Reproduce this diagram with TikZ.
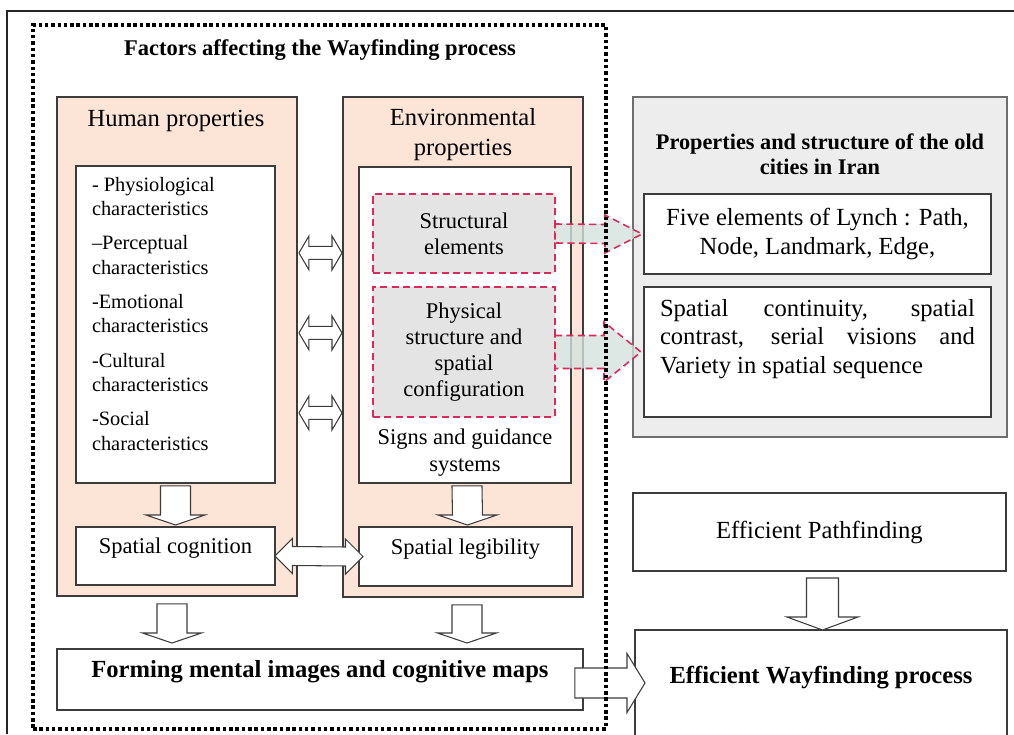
\documentclass[tikz,border=0pt]{standalone}
\usepackage{fontspec}
\setmainfont{Liberation Serif}
\usetikzlibrary{calc, positioning}

\definecolor{peach}{RGB}{252,229,214}
\definecolor{boxline}{RGB}{60,60,60}
\definecolor{propfill}{RGB}{237,237,237}
\definecolor{propline}{RGB}{110,110,110}
\definecolor{redline}{RGB}{222,40,90}
\definecolor{dashfill}{RGB}{228,228,228}
\definecolor{arrowfill}{RGB}{212,226,222}

\newcommand{\fsz}[2]{\fontsize{#1}{#2}\selectfont}

\begin{document}
\begin{tikzpicture}[
    x=0.02cm, y=-0.02cm,
    every node/.style={inner sep=0pt, outer sep=0pt},
    box/.style={rectangle, draw=boxline, line width=0.7pt, fill=white, align=center, font=\fsz{12.8}{14.8}},
    peachbox/.style={box, fill=peach},
    redbox/.style={rectangle, draw=redline, line width=0.9pt, dash pattern=on 4pt off 2.5pt, fill=dashfill, align=center, font=\fsz{12.8}{14.9}},
    blockarrow/.style={draw=boxline, line width=0.6pt, fill=white},
    redarrow/.style={draw=redline, line width=0.9pt, dash pattern=on 4pt off 2.5pt, fill=arrowfill, fill opacity=0.8},
    dotframe/.style={rectangle, draw=black, line width=2pt, dash pattern=on 2pt off 1.6pt},
    downblock/.style n args={3}{blockarrow, to path={
        ($(\tikztostart)+(-#1,0)$) -- ($(\tikztotarget)+(-#1,-#3)$) -- ($(\tikztotarget)+(-#2,-#3)$)
        -- (\tikztotarget) -- ($(\tikztotarget)+(#2,-#3)$) -- ($(\tikztotarget)+(#1,-#3)$)
        -- ($(\tikztostart)+(#1,0)$) -- cycle}},
    rightblock/.style n args={3}{to path={
        ($(\tikztostart)+(0,-#1)$) -- ($(\tikztotarget)+(-#3,-#1)$) -- ($(\tikztotarget)+(-#3,-#2)$)
        -- (\tikztotarget) -- ($(\tikztotarget)+(-#3,#2)$) -- ($(\tikztotarget)+(-#3,#1)$)
        -- ($(\tikztostart)+(0,#1)$) -- cycle}},
    dblblock/.style n args={3}{blockarrow, to path={
        (\tikztostart) -- ($(\tikztostart)+(#3,-#2)$) -- ($(\tikztostart)+(#3,-#1)$)
        -- ($(\tikztotarget)+(-#3,-#1)$) -- ($(\tikztotarget)+(-#3,-#2)$) -- (\tikztotarget)
        -- ($(\tikztotarget)+(-#3,#2)$) -- ($(\tikztotarget)+(-#3,#1)$)
        -- ($(\tikztostart)+(#3,#1)$) -- ($(\tikztostart)+(#3,#2)$) -- cycle}}
]

\useasboundingbox (0,0) rectangle (1014,734);

% Outer frame
\draw[line width=1.2pt, black!85] (7,734) -- (7,11) -- (1014,11);

% Factors affecting the wayfinding process
\node (title) [font=\bfseries\fsz{12.8}{15}] at (320,50) {Factors affecting the Wayfinding process};

% Human properties
\node (humanBox) [peachbox, anchor=north west, minimum width=4.8cm, minimum height=9.98cm] at (57,97) {};
\node (humanTitle) [font=\fsz{14}{17}] at (176,121) {Human properties};
\node (humanList) [box, anchor=north west, minimum width=3.98cm, minimum height=6.34cm] at (76,166) {};
\node (humanItems) [anchor=north west, align=left, font=\fsz{11.6}{13.9}] at (92,177)
    {- Physiological\\characteristics\\[5.6pt]--Perceptual\\characteristics\\[5.6pt]-Emotional\\characteristics\\[5.6pt]-Cultural\\characteristics\\[5.6pt]-Social\\characteristics};
\node (spatCog) [box, anchor=north west, minimum width=3.98cm, minimum height=1.16cm, text height=9pt, text depth=11.3pt] at (76,527) {Spatial cognition};

% Environmental properties
\node (envBox) [peachbox, anchor=north west, minimum width=4.8cm, minimum height=10cm] at (343,97) {};
\node (envTitle) [font=\fsz{14}{17}, align=center] at (463,135) {Environmental\\properties};
\node (envList) [box, anchor=north west, minimum width=4.24cm, minimum height=6.32cm] at (359,167) {};
\node (structBox) [redbox, anchor=north west, minimum width=3.64cm, minimum height=1.58cm] at (373,194) {Structural\\elements};
\node (physBox) [redbox, anchor=north west, minimum width=3.64cm, minimum height=2.6cm] at (373,287) {Physical\\structure and\\spatial\\configuration};
\node (signsText) [font=\fsz{12.8}{15.3}, align=center] at (465,453) {Signs and guidance\\systems};
\node (spatLeg) [box, anchor=north west, minimum width=4.26cm, minimum height=1.18cm, text height=9pt, text depth=11.3pt] at (359,527) {Spatial legibility};

% Mental images
\node (formBox) [box, anchor=north west, minimum width=10.52cm, minimum height=1.22cm, font=\bfseries\fsz{14}{17}, text height=10pt, text depth=12.8pt] at (57,649) {Forming mental images and cognitive maps};

% Old cities in Iran
\node (propBox) [rectangle, draw=propline, line width=0.7pt, fill=propfill, anchor=north west, minimum width=7.48cm, minimum height=6.8cm] at (633,97) {};
\node (propTitle) [font=\bfseries\fsz{12.7}{14.2}, align=center] at (820,154) {Properties and structure of the old\\cities in Iran};
\node (fiveBox) [box, anchor=north west, minimum width=6.94cm, minimum height=1.6cm, font=\fsz{14}{16.4}] at (644,194) {Five elements of Lynch : Path,\\Node, Landmark, Edge,};
\node (spaceBox) [box, anchor=north west, minimum width=6.94cm, minimum height=2.6cm] at (644,287) {};
\node (spaceText) [anchor=north west, text width=6.3cm, align=justify, font=\fsz{14}{16.4}] at (660,299)
    {Spatial continuity, spatial\linebreak contrast, serial visions and\linebreak Variety in spatial sequence};

% Outcomes
\node (pathBox) [box, anchor=north west, minimum width=7.46cm, minimum height=1.56cm, font=\fsz{14}{17}] at (633,493) {Efficient Pathfinding};
\node (wayBox) [box, anchor=north west, minimum width=7.44cm, minimum height=2.12cm, font=\bfseries\fsz{14}{17}, text height=10pt, text depth=9pt] at (635,630) {Efficient Wayfinding process};

% Arrows
\draw[downblock={15}{29.5}{10}] ($(humanList.south)+(0,3)$) to ($(spatCog.north)+(0,-2)$);
\draw[downblock={15}{29.5}{10}] ($(envList.south)+(2,3)$) to ($(spatLeg.north)+(2,-2)$);
\draw[dblblock={6.5}{17}{10}] ($(humanBox.east)+(2,-93.5)$) to ($(envBox.west)+(-1,-94)$);
\draw[dblblock={6.5}{17}{10}] ($(humanBox.east)+(2,-13.5)$) to ($(envBox.west)+(-1,-14)$);
\draw[dblblock={6.5}{17}{10}] ($(humanBox.east)+(2,66.5)$) to ($(envBox.west)+(-1,66)$);
\draw[dblblock={9.5}{17.5}{17.5}] (spatCog.east) to ($(spatLeg.west)+(4,0)$);
\draw[downblock={15}{29.5}{10}] ($(humanBox.south)+(-5,8)$) to ($(formBox.north -| humanBox.south)+(-5,-6)$);
\draw[downblock={15}{29.5}{10}] ($(envBox.south)+(4,8)$) to ($(formBox.north -| envBox.south)+(4,-6)$);
\draw[blockarrow, rightblock={15}{29.5}{18}] ($(formBox.east |- wayBox.west)+(-8,0)$) to ($(wayBox.west)+(10,0)$);
\draw[downblock={16}{35.5}{13}] ($(pathBox.south)+(3,7)$) to ($(wayBox.north -| pathBox.south)+(3,0)$);
\draw[redarrow, rightblock={9.5}{19}{37}] (structBox.east) to ($(fiveBox.west)+(-2,0)$);
\draw[redarrow, rightblock={16.5}{30}{37}] (physBox.east) to ($(spaceBox.west)+(-3,0)$);

% Dotted frame on top
\node (factorsFrame) [dotframe, anchor=north west, minimum width=11.46cm, minimum height=14.08cm] at (33,25) {};

\end{tikzpicture}
\end{document}
